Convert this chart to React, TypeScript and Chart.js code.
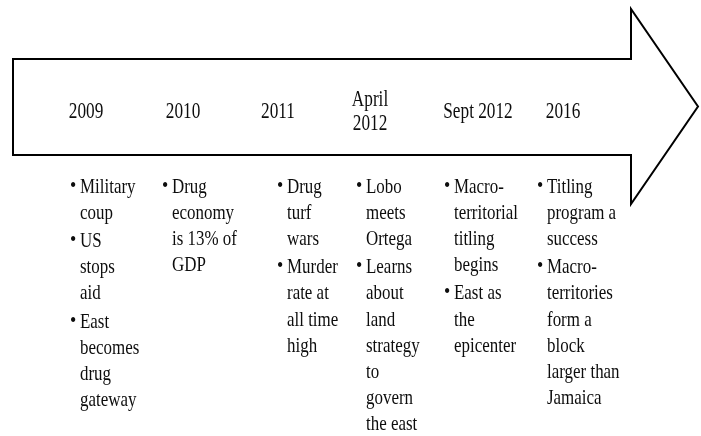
import React, { useEffect, useRef } from "react";
import { Chart, registerables } from "chart.js";

Chart.register(...registerables);

// ---- data ----
const periods: string[][] = [["2009"], ["2010"], ["2011"], ["April", "2012"], ["Sept 2012"], ["2016"]];

const events2009: string[][] = [["Military", "coup"], ["US", "stops", "aid"], ["East", "becomes", "drug", "gateway"]];
const events2010: string[][] = [["Drug", "economy", "is 13% of", "GDP"]];
const events2011: string[][] = [["Drug", "turf", "wars"], ["Murder", "rate at", "all time", "high"]];
const eventsApr2012: string[][] = [["Lobo", "meets", "Ortega"], ["Learns", "about", "land", "strategy", "to", "govern", "the east"]];
const eventsSept2012: string[][] = [["Macro-", "territorial", "titling", "begins"], ["East as", "the", "epicenter"]];
const events2016: string[][] = [["Titling", "program a", "success"], ["Macro-", "territories", "form a", "block", "larger than", "Jamaica"]];

const allEvents = [events2009, events2010, events2011, eventsApr2012, eventsSept2012, events2016];

// ---- layout (pixels on a 701x436 canvas) ----
const W = 701;
const H = 436;
const periodCenters = [86, 183, 278, 370, 478, 563];
const bulletX = [71, 163, 278, 357, 445, 538];
const arrow = { left: 13, right: 631, top: 59, bottom: 155, headTop: 9, headBottom: 204, tip: 698 };
const FONT = '"Liberation Serif", "Times New Roman", serif';

export default function App() {
  const ref = useRef<HTMLCanvasElement>(null);
  useEffect(() => {
    if (!ref.current) return;
    const drawText = (ctx: CanvasRenderingContext2D, s: string, x: number, y: number, align: "left" | "center", sx: number) => {
      ctx.save();
      ctx.translate(x, y);
      ctx.scale(sx, 1);
      ctx.textAlign = align;
      ctx.fillText(s, 0, 0);
      ctx.restore();
    };
    const plugin = {
      id: "timeline",
      afterDraw(chart: any) {
        const ctx: CanvasRenderingContext2D = chart.ctx;
        const xs = chart.scales.x;
        const ys = chart.scales.y;
        const px = (v: number) => xs.getPixelForValue(v);
        const py = (v: number) => ys.getPixelForValue(v);
        ctx.save();
        // arrow body + head
        ctx.beginPath();
        ctx.moveTo(px(arrow.left), py(arrow.top));
        ctx.lineTo(px(arrow.right), py(arrow.top));
        ctx.lineTo(px(arrow.right), py(arrow.headTop));
        ctx.lineTo(px(arrow.tip), py((arrow.headTop + arrow.headBottom) / 2));
        ctx.lineTo(px(arrow.right), py(arrow.headBottom));
        ctx.lineTo(px(arrow.right), py(arrow.bottom));
        ctx.lineTo(px(arrow.left), py(arrow.bottom));
        ctx.closePath();
        ctx.fillStyle = "#ffffff";
        ctx.fill();
        ctx.lineWidth = 2;
        ctx.strokeStyle = "#000000";
        ctx.lineJoin = "miter";
        ctx.stroke();
        ctx.fillStyle = "#0d0d0d";
        ctx.textBaseline = "alphabetic";
        // period labels
        ctx.font = `23px ${FONT}`;
        periods.forEach((lines, i) => {
          const mid = 117.5;
          const lh = 24;
          const start = mid - ((lines.length - 1) * lh) / 2;
          lines.forEach((l, j) => drawText(ctx, l, px(periodCenters[i]), py(start + j * lh), "center", 0.75));
        });
        // events
        allEvents.forEach((bullets, i) => {
          let y = 192.5;
          bullets.forEach((lines, b) => {
            if (b > 0) y += 2;
            ctx.font = `21px ${FONT}`;
            drawText(ctx, "\u2022", px(bulletX[i] - 1), py(y - 1), "left", 0.85);
            ctx.font = `22px ${FONT}`;
            lines.forEach((l) => {
              drawText(ctx, l, px(bulletX[i] + 9), py(y), "left", 0.77);
              y += 26.2;
            });
          });
        });
        ctx.restore();
      },
    };
    const chart = new Chart(ref.current, {
      type: "scatter",
      data: { datasets: [{ data: [], pointRadius: 0 }] },
      options: {
        animation: false,
        responsive: false,
        maintainAspectRatio: false,
        layout: { padding: 0 },
        plugins: { legend: { display: false }, tooltip: { enabled: false } },
        scales: {
          x: { type: "linear", min: 0, max: W, display: false },
          y: { type: "linear", min: 0, max: H, reverse: true, display: false },
        },
      },
      plugins: [plugin],
    });
    return () => chart.destroy();
  }, []);
  return (
    <div style={{ position: "fixed", left: 0, top: 0, width: W, height: H, background: "#fff" }}>
      <canvas ref={ref} width={W} height={H} style={{ display: "block" }} />
    </div>
  );
}
